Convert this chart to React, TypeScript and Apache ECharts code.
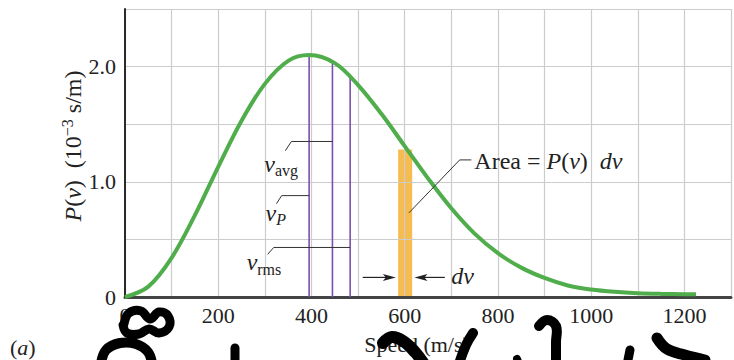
import React, { useEffect, useRef } from "react";
import * as echarts from "echarts";

// Speed (m/s)
const speeds = [0, 50, 100, 150, 200, 250, 300, 350, 395, 450, 500, 550, 600, 650, 700, 750, 800, 850, 900, 950, 1000, 1050, 1100, 1150, 1200, 1225];
// P(v) in 10^-3 s/m
const density = [0, 0.09, 0.34, 0.71, 1.13, 1.53, 1.85, 2.05, 2.1, 2.03, 1.84, 1.59, 1.31, 1.03, 0.77, 0.55, 0.38, 0.255, 0.165, 0.1, 0.065, 0.045, 0.033, 0.027, 0.024, 0.023];

const xTickLabels = ["0", "200", "400", "600", "800", "1000", "1200"];
const yTickLabels = ["0", "1.0", "2.0"];

// characteristic speeds
const markerNames = ["vP", "vavg", "vrms"];
const markerSpeeds = [395, 445, 483];
const markerHeights = [2.1, 2.03, 1.91];

// strip of width dv
const stripFrom = 586;
const stripTo = 616;
const stripHeight = 1.28;

const SERIF = "Liberation Serif";

export default function App() {
  const ref = useRef<HTMLDivElement>(null);
  useEffect(() => {
    if (!ref.current) return;
    const chart = echarts.init(ref.current, null, { renderer: "svg" });
    const curve = speeds.map((v, i) => [v, density[i]]);

    const option: any = {
      animation: false,
      backgroundColor: "#ffffff",
      grid: { left: 125, right: -3, top: 9, bottom: 59, containLabel: false },
      xAxis: {
        type: "value",
        min: 0,
        max: 1300,
        interval: 100,
        axisLine: { show: true, onZero: false, lineStyle: { color: "#444", width: 3 } },
        axisTick: { show: false },
        axisLabel: {
          margin: 7,
          fontFamily: SERIF,
          fontSize: 22,
          color: "#222",
          formatter: (v: number) => {
            const idx = xTickLabels.indexOf(String(v));
            return idx >= 0 ? xTickLabels[idx] : "";
          },
        },
        splitLine: { show: true, lineStyle: { color: "#cccccc", width: 1.2 } },
        name: "Speed (m/s)",
        nameLocation: "middle",
        nameGap: 36,
        nameTextStyle: { fontFamily: SERIF, fontSize: 22, color: "#222", padding: [0, 22, 0, 0] },
      },
      yAxis: {
        type: "value",
        min: 0,
        max: 2.5,
        interval: 0.5,
        axisLine: { show: true, lineStyle: { color: "#2a2a2a", width: 2 } },
        axisTick: { show: false },
        axisLabel: {
          margin: 9,
          fontFamily: SERIF,
          fontSize: 22,
          color: "#222",
          formatter: (v: number) => {
            const s = v === 0 ? "0" : v.toFixed(1);
            return yTickLabels.indexOf(s) >= 0 ? s : "";
          },
        },
        splitLine: { show: true, lineStyle: { color: "#cccccc", width: 1.2 } },
      },
      series: [
        {
          type: "custom",
          z: -1,
          renderItem: (params: any, api: any) => {
            const a = api.coord([api.value(0), api.value(2)]);
            const b = api.coord([api.value(1), 0]);
            return {
              type: "rect",
              shape: { x: a[0], y: a[1], width: b[0] - a[0], height: b[1] - a[1] },
              style: { fill: "#f7bc4f" },
            };
          },
          data: [[stripFrom, stripTo, stripHeight]],
          silent: true,
        },
        {
          type: "custom",
          renderItem: (params: any, api: any) => {
            const top = api.coord([api.value(0), api.value(1)]);
            const bot = api.coord([api.value(0), 0]);
            return {
              type: "line",
              shape: { x1: top[0], y1: top[1], x2: bot[0], y2: bot[1] },
              style: { stroke: "#7a4fb0", lineWidth: 1.6 },
            };
          },
          data: markerSpeeds.map((v, i) => [v, markerHeights[i], markerNames[i]]),
          silent: true,
          z: 3,
        },
        {
          type: "line",
          data: curve,
          smooth: 0.35,
          showSymbol: false,
          lineStyle: { color: "#50ad4b", width: 4 },
          z: 4,
        },
      ],
    };
    chart.setOption(option);

    const px = (v: number, p: number) => chart.convertToPixel({ gridIndex: 0 }, [v, p]) as number[];
    const lineStyle = { stroke: "#333", lineWidth: 1 };
    const poly = (pts: number[][]) => ({ type: "polyline", shape: { points: pts }, style: { ...lineStyle, fill: "none" }, z: 10 });
    const nStyle = { fontFamily: SERIF, fontSize: 24, fill: "#222" };
    const iStyle = { fontFamily: SERIF, fontStyle: "italic", fontSize: 24, fill: "#222" };

    const graphics: any[] = [];

    // y axis title
    graphics.push({
      type: "text",
      x: 73,
      y: 146,
      rotation: Math.PI / 2,
      z: 10,
      style: {
        text: "{i|P}{n|(}{i|v}{n|)  (10}{s|−3}{n| s/m)}",
        align: "center",
        verticalAlign: "middle",
        rich: {
          n: { ...nStyle, lineHeight: 28 },
          i: { ...iStyle, lineHeight: 28 },
          s: { fontFamily: SERIF, fontSize: 16, fill: "#222", verticalAlign: "top", lineHeight: 28 },
        },
      },
    });

    // leader lines in data space: [line x, line y, elbow x, end x, end y]
    const leaders = [
      [445, 1.35, 357, 344, 1.27],
      [395, 0.88, 336, 325, 0.81],
      [483, 0.43, 319, 306, 0.37],
    ];
    leaders.forEach((l) => {
      const a = px(l[0], l[1]);
      const b = px(l[2], l[1]);
      const c = px(l[3], l[4]);
      graphics.push(poly([a, b, c]));
    });
    const vStyle = { ...iStyle, lineHeight: 26 };
    const subStyle = { fontFamily: SERIF, fontSize: 16, fill: "#222", verticalAlign: "bottom", lineHeight: 30 };
    const labels = [
      { t: "{v|v}{s|avg}", at: px(344, 1.27), dx: -21, dy: 13, sub: subStyle },
      { t: "{v|v}{s|P}", at: px(325, 0.81), dx: -11, dy: 9, sub: { ...subStyle, fontStyle: "italic" } },
      { t: "{v|v}{s|rms}", at: px(306, 0.37), dx: -21, dy: 8, sub: subStyle },
    ];
    labels.forEach((lb) => {
      graphics.push({
        type: "text",
        x: lb.at[0] + lb.dx,
        y: lb.at[1] + lb.dy,
        z: 10,
        style: {
          text: lb.t,
          verticalAlign: "middle",
          align: "left",
          rich: { v: vStyle, s: lb.sub },
        },
      });
    });

    // Area leader
    const a1 = px(609, 0.73);
    const a2 = px(718, 1.19);
    const a3 = px(743, 1.19);
    graphics.push(poly([a1, a2, a3]));
    graphics.push({
      type: "text",
      x: a3[0] + 3,
      y: a3[1] + 1,
      z: 10,
      style: {
        text: "{n|Area = }{i|P}{n|(}{i|v}{n|)  }{i|dv}",
        verticalAlign: "middle",
        rich: { n: nStyle, i: iStyle },
      },
    });

    // dv arrows
    const arrow = (x1: number, x2: number, y: number) => {
      const p1 = px(x1, y);
      const p2 = px(x2, y);
      const dir = Math.sign(p2[0] - p1[0]);
      graphics.push({ type: "line", shape: { x1: p1[0], y1: p1[1], x2: p2[0] - dir * 6, y2: p2[1] }, style: { stroke: "#222", lineWidth: 1.2 }, z: 10 });
      graphics.push({
        type: "polygon",
        shape: { points: [[p2[0], p2[1]], [p2[0] - dir * 13, p2[1] - 3.5], [p2[0] - dir * 10, p2[1]], [p2[0] - dir * 13, p2[1] + 3.5]] },
        style: { fill: "#222" },
        z: 10,
      });
    };
    arrow(510, 581, 0.17);
    arrow(686, 621, 0.17);
    const dvPos = px(700, 0.17);
    graphics.push({
      type: "text",
      x: dvPos[0],
      y: dvPos[1] - 1,
      z: 10,
      style: { text: "dv", ...iStyle, verticalAlign: "middle" },
    });

    // panel tag
    graphics.push({
      type: "text",
      x: 10,
      y: 347,
      z: 10,
      style: {
        text: "{n|(}{i|a}{n|)}",
        verticalAlign: "middle",
        rich: { n: { ...nStyle, fontSize: 22 }, i: { ...iStyle, fontSize: 22 } },
      },
    });

    // black handwritten strokes over the picture
    const ink = (pts: number[][], w: number) => ({
      type: "polyline",
      shape: { points: pts, smooth: 0.4 },
      style: { stroke: "#000", lineWidth: w, fill: "none", lineCap: "round", lineJoin: "round" },
      z: 20,
    });
    graphics.push(ink([[124, 324], [129, 313], [141, 311], [150, 319], [159, 312], [168, 316], [169, 327], [159, 333], [149, 329], [139, 334], [127, 333], [123, 325]], 9));
    graphics.push(ink([[101, 364], [106, 350], [120, 343], [136, 344], [148, 352], [152, 364]], 10));
    graphics.push(ink([[235, 348], [235, 364]], 9));
    graphics.push(ink([[383, 343], [392, 337], [403, 341], [415, 352], [424, 364]], 12));
    graphics.push(ink([[473, 333], [466, 345], [459, 364]], 10));
    graphics.push(ink([[539, 326], [547, 320], [556, 326], [556, 342], [556, 364]], 10));
    graphics.push(ink([[517, 359], [519, 364]], 8));
    graphics.push(ink([[630, 350], [628, 360]], 9));
    graphics.push(ink([[657, 338], [667, 349], [685, 355], [705, 360]], 11));

    chart.setOption({ graphic: graphics });
    return () => chart.dispose();
  }, []);

  return <div ref={ref} style={{ position: "fixed", left: 0, top: 0, width: 734, height: 360 }} />;
}
